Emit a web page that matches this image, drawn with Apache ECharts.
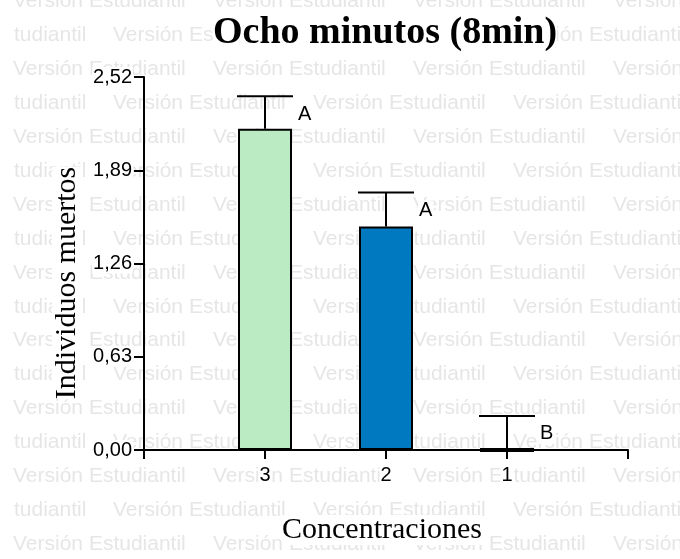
<!DOCTYPE html>
<html>
<head>
<meta charset="utf-8">
<script src="https://cdn.jsdelivr.net/npm/echarts@6/dist/echarts.min.js"></script>
<style>
  html, body { margin: 0; padding: 0; background: #fff; }
  #chart { width: 680px; height: 559px; }
</style>
</head>
<body>
<div id="chart"></div>
<script>
// Mortality after eight minutes, by concentration
const categories = ['3', '2', '1'];
const means = [2.17, 1.51, 0];
const sems = [0.22, 0.23, 0.23];
const groups = ['A', 'A', 'B'];
const barColors = ['#bbebc2', '#0079c0', '#ffffff'];
const yTickLabels = ['0,00', '0,63', '1,26', '1,89', '2,52'];
const yStep = 0.63;

const serif = '"Liberation Serif", "Times New Roman", serif';
const sans = '"Liberation Sans", Arial, sans-serif';
const BAR_WIDTH = 54;

// Student-edition watermark tiled across the whole canvas
const markText = 'Versión Estudiantil';
const markTail = 'tudiantil';
const watermark = [];
for (let k = -1; k <= 15; k++) {
  const cy = 35.6 + 33.9 * k;
  const shifted = (k % 2 === 0);
  const xs = shifted ? [113, 313, 513] : [13, 213, 413, 613];
  if (shifted) {
    watermark.push({ type: 'text', x: 14, y: cy, z: -10, silent: true,
      style: { text: markTail, font: '21px ' + sans, fill: '#e6e6e6', verticalAlign: 'middle' } });
  }
  xs.forEach(x => watermark.push({ type: 'text', x: x, y: cy, z: -10, silent: true,
    style: { text: markText, font: '21px ' + sans, fill: '#e6e6e6', verticalAlign: 'middle' } }));
}

const barData = categories.map((c, i) => ({
  value: [i + 1, means[i]],
  itemStyle: { color: barColors[i] }
}));
const errData = categories.map((c, i) => [i + 1, means[i], sems[i], i]);

const chart = echarts.init(document.getElementById('chart'), null, { renderer: 'canvas' });
chart.setOption({
  backgroundColor: '#ffffff',
  animation: false,
  title: {
    text: 'Ocho minutos (8min)',
    left: 213, top: 12, padding: 0,
    backgroundColor: '#ffffff',
    textStyle: { fontFamily: serif, fontWeight: 'bold', fontSize: 38, color: '#000', lineHeight: 42 }
  },
  grid: { left: 144, right: 52, top: 77, bottom: 109, containLabel: false },
  xAxis: {
    type: 'value', min: 0, max: 4, interval: 1,
    splitLine: { show: false },
    axisLine: { show: true, lineStyle: { color: '#000', width: 2 } },
    axisTick: { show: true, length: 9, lineStyle: { color: '#000', width: 2 } },
    axisLabel: {
      margin: 15, fontFamily: sans, fontSize: 20, color: '#000',
      backgroundColor: '#fff', padding: [0, 1],
      formatter: v => (v >= 1 && v <= categories.length) ? categories[v - 1] : ''
    }
  },
  yAxis: {
    type: 'value', min: 0, max: 2.52, interval: yStep,
    splitLine: { show: false },
    axisLine: { show: true, lineStyle: { color: '#000', width: 2 } },
    axisTick: { show: true, length: 10, lineStyle: { color: '#000', width: 2 } },
    axisLabel: {
      margin: 11, fontFamily: sans, fontSize: 20, color: '#000',
      backgroundColor: '#fff', padding: [0, 1],
      formatter: v => yTickLabels[Math.round(v / yStep)]
    }
  },
  graphic: watermark.concat([
    { type: 'text', x: 382, y: 530, z: 50,
      style: { text: 'Concentraciones', font: '30px ' + serif, fill: '#000',
        align: 'center', verticalAlign: 'middle', backgroundColor: '#fff' } },
    { type: 'text', x: 67, y: 283, rotation: Math.PI / 2, z: 50,
      style: { text: 'Individuos muertos', font: '30px ' + serif, fill: '#000',
        align: 'center', verticalAlign: 'middle', backgroundColor: '#fff' } }
  ]),
  series: [
    {
      type: 'bar',
      data: barData,
      barWidth: BAR_WIDTH,
      itemStyle: { borderColor: '#000', borderWidth: 2 },
      z: 3
    },
    {
      // error bars (mean + SEM), group letters, and the outline of collapsed bars
      type: 'custom',
      data: errData,
      z: 4,
      clip: false,
      renderItem: (params, api) => {
        const x = api.value(0), y = api.value(1), e = api.value(2);
        const idx = api.value(3);
        const zero = api.coord([x, 0]);
        const base = api.coord([x, y]);
        const top = api.coord([x, y + e]);
        const half = 28;
        const children = [
          { type: 'line', shape: { x1: base[0], y1: base[1], x2: top[0], y2: top[1] },
            style: { stroke: '#000', lineWidth: 2 } },
          { type: 'line', shape: { x1: top[0] - half, y1: top[1], x2: top[0] + half, y2: top[1] },
            style: { stroke: '#000', lineWidth: 2 } },
          { type: 'text', x: top[0] + 32, y: top[1] + 18,
            style: { text: groups[idx], font: '20px ' + sans, fill: '#000',
              align: 'left', verticalAlign: 'middle', backgroundColor: '#fff', padding: [0, 1] } }
        ];
        if (Math.abs(zero[1] - base[1]) < 2) {
          children.push({ type: 'line',
            shape: { x1: base[0] - BAR_WIDTH / 2, y1: base[1], x2: base[0] + BAR_WIDTH / 2, y2: base[1] },
            style: { stroke: '#000', lineWidth: 4 } });
        }
        return { type: 'group', children: children };
      }
    }
  ]
});
</script>
</body>
</html>
